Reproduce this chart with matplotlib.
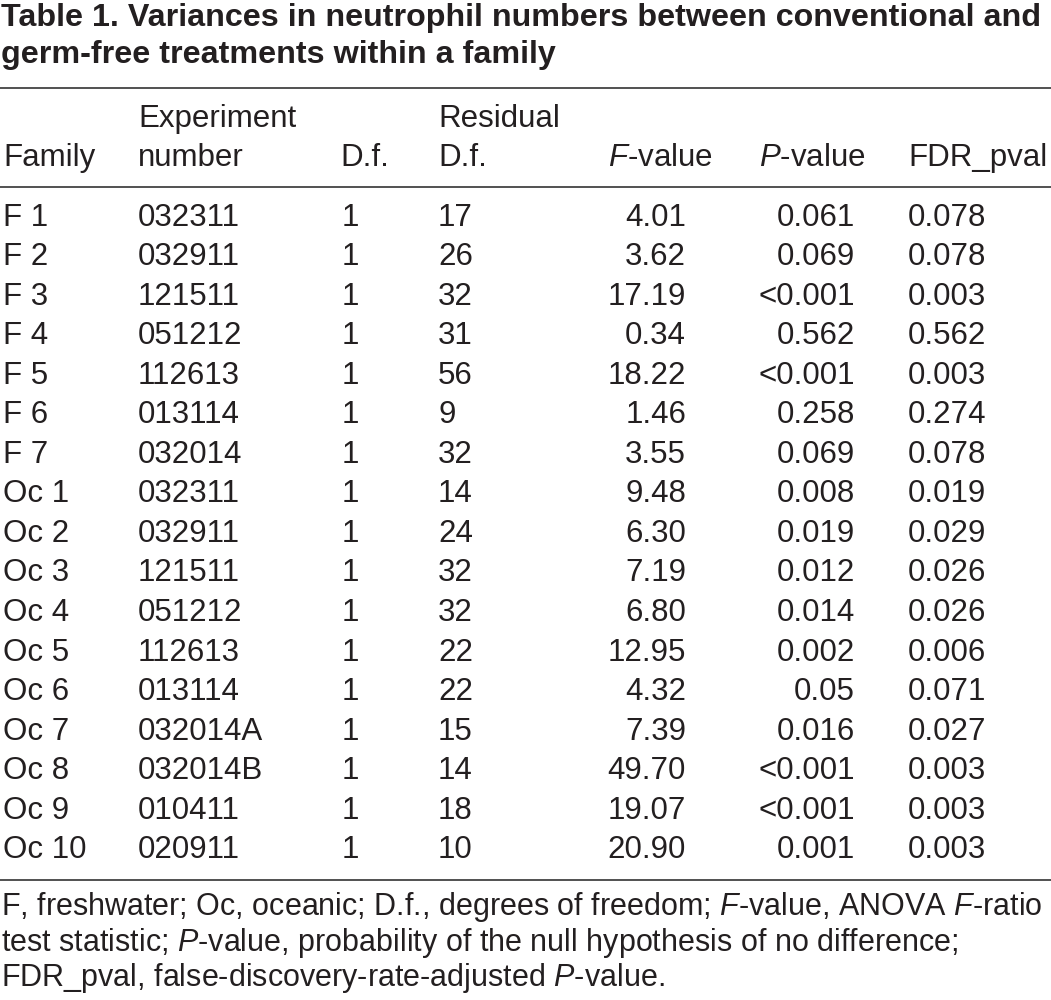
import matplotlib.pyplot as plt

plt.rcParams['font.family'] = ['Liberation Sans', 'DejaVu Sans']
plt.rcParams['mathtext.fontset'] = 'custom'
plt.rcParams['mathtext.rm'] = 'Liberation Sans'
plt.rcParams['mathtext.it'] = 'Liberation Sans:italic'
plt.rcParams['mathtext.bf'] = 'Liberation Sans:bold'

# table content
title_lines = ['Table 1. Variances in neutrophil numbers between conventional and',
               'germ-free treatments within a family']
family = ['F 1', 'F 2', 'F 3', 'F 4', 'F 5', 'F 6', 'F 7',
          'Oc 1', 'Oc 2', 'Oc 3', 'Oc 4', 'Oc 5', 'Oc 6', 'Oc 7', 'Oc 8', 'Oc 9', 'Oc 10']
experiment = ['032311', '032911', '121511', '051212', '112613', '013114', '032014',
              '032311', '032911', '121511', '051212', '112613', '013114', '032014A',
              '032014B', '010411', '020911']
df = [1] * 17
resid_df = [17, 26, 32, 31, 56, 9, 32, 14, 24, 32, 32, 22, 22, 15, 14, 18, 10]
f_value = ['4.01', '3.62', '17.19', '0.34', '18.22', '1.46', '3.55', '9.48', '6.30',
           '7.19', '6.80', '12.95', '4.32', '7.39', '49.70', '19.07', '20.90']
p_value = ['0.061', '0.069', '<0.001', '0.562', '<0.001', '0.258', '0.069', '0.008',
           '0.019', '0.012', '0.014', '0.002', '0.05', '0.016', '<0.001', '<0.001', '0.001']
fdr_pval = ['0.078', '0.078', '0.003', '0.562', '0.003', '0.274', '0.078', '0.019',
            '0.029', '0.026', '0.026', '0.006', '0.071', '0.027', '0.003', '0.003', '0.003']
footnote = ['F, freshwater; Oc, oceanic; D.f., degrees of freedom; $F$-value, ANOVA $F$-ratio',
            'test statistic; $P$-value, probability of the null hypothesis of no difference;',
            'FDR_pval, false-discovery-rate-adjusted $P$-value.']

fig = plt.figure(figsize=(10.51, 10), dpi=100)
ax = fig.add_axes([0, 0, 1, 1])
ax.set_xlim(0, 1051)
ax.set_ylim(1000, 0)
ax.axis('off')

fs = 22.5
col = '#231f20'

# title
for i, line in enumerate(title_lines):
    ax.text(1, 26 + i * 37, line, fontsize=23.2, fontweight='bold', color=col, va='baseline')

# rules
for y in [88, 187, 880]:
    ax.plot([0, 1051], [y, y], color='#333333', lw=1.2)

# header
ax.text(138, 127, 'Experiment', fontsize=fs, color=col, va='baseline')
ax.text(438, 127, 'Residual', fontsize=fs, color=col, va='baseline')
hy = 166
ax.text(3, hy, 'Family', fontsize=fs, color=col, va='baseline')
ax.text(138, hy, 'number', fontsize=fs, color=col, va='baseline')
ax.text(340, hy, 'D.f.', fontsize=fs, color=col, va='baseline')
ax.text(438, hy, 'D.f.', fontsize=fs, color=col, va='baseline')
ax.text(713, hy, '$F$-value', fontsize=fs, color=col, va='baseline', ha='right')
ax.text(866, hy, '$P$-value', fontsize=fs, color=col, va='baseline', ha='right')
ax.text(908, hy, 'FDR_pval', fontsize=fs, color=col, va='baseline')

# body rows
step = 39.55
for i in range(len(family)):
    y = 225.5 + i * step
    ax.text(3, y, family[i], fontsize=fs, color=col, va='baseline')
    ax.text(138, y, experiment[i], fontsize=fs, color=col, va='baseline')
    ax.text(350, y, str(df[i]), fontsize=fs, color=col, va='baseline', ha='center')
    ax.text(438, y, str(resid_df[i]), fontsize=fs, color=col, va='baseline')
    ax.text(686, y, f_value[i], fontsize=fs, color=col, va='baseline', ha='right')
    ax.text(855, y, p_value[i], fontsize=fs, color=col, va='baseline', ha='right')
    ax.text(908, y, fdr_pval[i], fontsize=fs, color=col, va='baseline')

# footnote
for i, line in enumerate(footnote):
    ax.text(1, 915 + i * 35.5, line, fontsize=22, color=col, va='baseline')

fig.savefig('out.png', dpi=100)
